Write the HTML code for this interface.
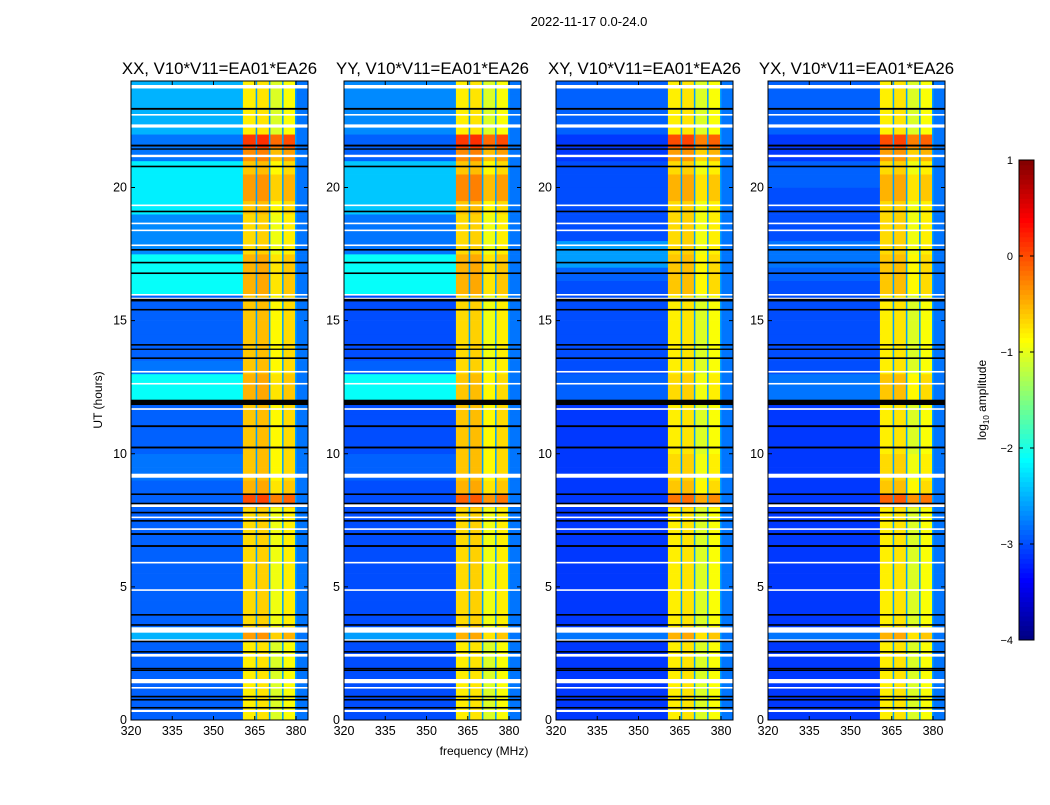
<!DOCTYPE html>
<html><head><meta charset="utf-8"><style>
body{margin:0;background:#fff;font-family:"Liberation Sans",sans-serif;}
svg text{font-family:"Liberation Sans",sans-serif;}
</style></head><body>
<svg id="fig" width="1050" height="800" xmlns="http://www.w3.org/2000/svg">
<rect width="1050" height="800" fill="#fff"/>
<text x="589" y="26" font-size="13" text-anchor="middle">2022-11-17 0.0-24.0</text>
<text x="484" y="755" font-size="12" text-anchor="middle">frequency (MHz)</text>
<text transform="translate(102,400) rotate(-90)" font-size="12" text-anchor="middle">UT (hours)</text>
<text transform="translate(986,400) rotate(-90)" font-size="12" text-anchor="middle">log<tspan font-size="8" dy="3">10</tspan><tspan dy="-3"> amplitude</tspan></text>
</svg>
<script>
const panelTitles=["XX, V10*V11=EA01*EA26","YY, V10*V11=EA01*EA26","XY, V10*V11=EA01*EA26","YX, V10*V11=EA01*EA26"];
const xTicks=[320,335,350,365,380];
const yTicks=[0,5,10,15,20];
const cbTicks=[1,0,-1,-2,-3,-4];
const freqEdges=[320,360.7,365.7,370.5,375.3,380,384.4];
const bandOffsets=[0,0.05,-0.25,-0.1];
const highLevel=-2.8;
const lowXX=[-2.9,-2.9,-2.9,-2.9,-2.9,-2.9,-2.5,-2.9,-2.9,-2.9,-2.9,-2.9,-2.9,-2.9,-2.9,-2.9,-2.9,-2.9,-2.8,-2.8,-2.9,-2.9,-2.9,-2.9,-2.1,-2.1,-2.8,-2.9,-2.9,-2.9,-2.9,-2.9,-2.1,-2.1,-2.1,-2.7,-2.7,-2.7,-2.2,-2.2,-2.2,-2.2,-2.8,-2.8,-2.5,-2.5,-2.5,-2.5];
const bandXX=[-0.8,-0.8,-0.8,-0.8,-0.8,-0.8,-0.4,-0.7,-0.7,-0.7,-0.7,-0.7,-0.7,-0.7,-0.7,-0.7,0.0,-0.5,-0.6,-0.6,-0.6,-0.6,-0.6,-0.6,-0.5,-0.5,-0.6,-0.6,-0.6,-0.6,-0.6,-0.6,-0.5,-0.5,-0.5,-0.7,-0.7,-0.7,-0.6,-0.4,-0.4,-0.6,-0.3,0.1,-0.8,-0.8,-0.8,-0.8];
const lowYY=[-3.0,-3.0,-3.0,-3.0,-3.0,-3.0,-2.6,-3.0,-3.0,-3.0,-3.0,-3.0,-3.0,-3.0,-3.0,-3.0,-3.0,-3.0,-2.9,-2.9,-3.0,-3.0,-3.0,-3.0,-2.1,-2.1,-2.9,-3.0,-3.0,-3.0,-3.0,-3.0,-2.1,-2.1,-2.1,-2.8,-2.8,-2.8,-2.4,-2.4,-2.4,-2.4,-2.9,-2.9,-2.7,-2.7,-2.7,-2.7];
const bandYY=[-0.8,-0.8,-0.8,-0.8,-0.8,-0.8,-0.5,-0.7,-0.7,-0.7,-0.7,-0.7,-0.7,-0.7,-0.7,-0.7,-0.1,-0.5,-0.6,-0.6,-0.6,-0.6,-0.6,-0.6,-0.6,-0.6,-0.7,-0.7,-0.7,-0.7,-0.7,-0.7,-0.5,-0.5,-0.5,-0.7,-0.7,-0.7,-0.6,-0.3,-0.3,-0.6,-0.3,0.1,-0.8,-0.8,-0.8,-0.8];
const lowXY=[-3.1,-3.1,-3.1,-3.1,-3.1,-3.1,-2.8,-3.1,-3.1,-3.1,-3.1,-3.1,-3.1,-3.1,-3.1,-3.1,-3.1,-3.1,-3.1,-3.1,-3.1,-3.1,-3.1,-3.1,-2.9,-2.9,-3.0,-3.0,-3.0,-3.0,-3.0,-3.0,-3.0,-2.9,-2.6,-2.6,-3.0,-3.0,-3.0,-3.0,-3.0,-3.0,-3.1,-3.1,-2.9,-2.9,-2.9,-2.9];
const bandXY=[-0.8,-0.8,-0.8,-0.8,-0.8,-0.8,-0.5,-0.8,-0.8,-0.8,-0.8,-0.8,-0.8,-0.8,-0.8,-0.8,-0.2,-0.6,-0.7,-0.7,-0.8,-0.8,-0.8,-0.8,-0.7,-0.7,-0.8,-0.8,-0.8,-0.8,-0.8,-0.8,-0.6,-0.6,-0.6,-0.7,-0.7,-0.7,-0.7,-0.5,-0.5,-0.7,-0.4,0.0,-0.8,-0.8,-0.8,-0.8];
const lowYX=[-3.1,-3.1,-3.1,-3.1,-3.1,-3.1,-2.8,-3.1,-3.1,-3.1,-3.1,-3.1,-3.1,-3.1,-3.1,-3.1,-3.1,-3.1,-3.1,-3.1,-3.1,-3.1,-3.1,-3.1,-2.8,-2.8,-3.0,-3.0,-3.0,-3.0,-3.0,-3.0,-3.0,-2.9,-2.8,-2.8,-3.0,-3.0,-3.0,-3.0,-2.9,-2.9,-3.1,-3.1,-2.9,-2.9,-2.9,-2.9];
const bandYX=[-0.8,-0.8,-0.8,-0.8,-0.8,-0.8,-0.5,-0.8,-0.8,-0.8,-0.8,-0.8,-0.8,-0.8,-0.8,-0.8,-0.1,-0.6,-0.7,-0.7,-0.8,-0.8,-0.8,-0.8,-0.6,-0.6,-0.8,-0.8,-0.8,-0.8,-0.8,-0.8,-0.6,-0.6,-0.6,-0.7,-0.7,-0.7,-0.7,-0.5,-0.5,-0.7,-0.4,0.0,-0.8,-0.8,-0.8,-0.8];
const flagBlackStart=[22.92,21.54,21.42,20.76,19.07,17.63,17.15,16.75,15.72,15.38,14.06,13.9,13.56,11.83,11.0,10.2,8.45,8.1,7.76,7.45,6.95,6.5,3.92,3.54,2.92,2.53,1.9,1.84,0.85,0.73,0.43];
const flagBlackLen=[0.07,0.07,0.05,0.06,0.06,0.06,0.06,0.06,0.1,0.06,0.06,0.05,0.06,0.2,0.07,0.07,0.06,0.06,0.06,0.06,0.07,0.07,0.06,0.06,0.06,0.06,0.06,0.05,0.06,0.06,0.06];
const flagWhiteStart=[23.72,22.7,22.25,21.14,19.3,18.62,18.36,17.8,15.94,15.8,13.05,12.6,11.65,9.1,8.0,7.58,7.14,5.88,4.85,3.28,2.97,2.38,1.38,1.18,0.3];
const flagWhiteLen=[0.13,0.06,0.12,0.09,0.06,0.06,0.06,0.06,0.06,0.06,0.06,0.06,0.06,0.15,0.15,0.06,0.06,0.06,0.06,0.2,0.06,0.1,0.16,0.06,0.08];
const lowSeries=[lowXX,lowYY,lowXY,lowYX];
const bandSeries=[bandXX,bandYY,bandXY,bandYX];
const panelLefts=[131,344,556,768];
const W=177,TOP=81,BOT=720;
const NS="http://www.w3.org/2000/svg";
const svg=document.getElementById('fig');
function jet(v){let t=Math.max(0,Math.min(1,(v+4)/5));
 const c=x=>Math.round(255*Math.max(0,Math.min(1,1.5-Math.abs(4*t-x))));
 return `rgb(${c(3)},${c(2)},${c(1)})`;}
function mk(tag,attrs,parent){const e=document.createElementNS(NS,tag);for(const k in attrs)e.setAttribute(k,attrs[k]);(parent||svg).appendChild(e);return e;}
for(let p=0;p<4;p++){
 const L=panelLefts[p];
 const xs=f=>L+(f-320)*2.75;
 const ys=h=>BOT-h*(BOT-TOP)/24;
 const g=mk('g',{});
 
 
 const low=lowSeries[p],band=bandSeries[p];
 for(let i=0;i<low.length;i++){
  const y0=ys((i+1)/2),y1=ys(i/2);
  for(let c=0;c<freqEdges.length-1;c++){
   let v;
   if(c===0)v=low[i];else if(c===freqEdges.length-2)v=highLevel;else v=band[i]+bandOffsets[c-1];
   const r=mk('rect',{x:xs(freqEdges[c]),y:y0,width:xs(freqEdges[c+1])-xs(freqEdges[c])+0.3,height:y1-y0+0.3,fill:jet(v)},g);
   
   
  }
 }
 for(let c=2;c<freqEdges.length-1;c++){
  const d=mk('rect',{x:xs(freqEdges[c])-1,y:TOP,width:1.5,height:BOT-TOP,fill:jet(-2.6)},g);
  
  
 }
 for(let i=0;i<flagWhiteStart.length;i++){
  const a=ys(flagWhiteStart[i]+flagWhiteLen[i]),b=ys(flagWhiteStart[i]);
  const r=mk('rect',{x:L,y:a,width:W,height:Math.max(1.5,b-a),fill:'#fff'},g);
  
  
 }
 for(let i=0;i<flagBlackStart.length;i++){
  const a=ys(flagBlackStart[i]+flagBlackLen[i]),b=ys(flagBlackStart[i]);
  const r=mk('rect',{x:L,y:a,width:W,height:Math.max(1.3,b-a),fill:'#000'},g);
  
  
 }
 const fr=mk('rect',{x:L,y:TOP,width:W,height:BOT-TOP,fill:'none',stroke:'#000','stroke-width':1},g);
 
 
 const t=mk('text',{x:L+W/2,y:74,'font-size':16.8,'text-anchor':'middle'},g);t.textContent=panelTitles[p];
 
 
 for(const f of xTicks){
  const x=xs(f);
  mk('line',{x1:x,x2:x,y1:BOT,y2:BOT-4,stroke:'#000'},g);
  mk('line',{x1:x,x2:x,y1:TOP,y2:TOP+4,stroke:'#000'},g);
  const tx=mk('text',{x:x,y:BOT+15,'font-size':12.5,'text-anchor':'middle'},g);tx.textContent=f;
  
  
 }
 for(const h of yTicks){
  const y=ys(h);
  mk('line',{x1:L,x2:L+4,y1:y,y2:y,stroke:'#000'},g);
  mk('line',{x1:L+W,x2:L+W-4,y1:y,y2:y,stroke:'#000'},g);
  const ty=mk('text',{x:L-4,y:y+4,'font-size':12.5,'text-anchor':'end'},g);ty.textContent=h;
  
  
 }
}
const CBX=1019,CBW=15,CBT=160,CBB=640;
const cb=mk('g',{});


const cys=v=>CBB-(v+4)/5*(CBB-CBT);
for(let i=0;i<100;i++){
 const v0=-4+i*0.05;
 mk('rect',{x:CBX,y:cys(v0+0.05),width:CBW,height:(CBB-CBT)/100+0.5,fill:jet(v0+0.025)},cb);
}
mk('rect',{x:CBX,y:CBT,width:CBW,height:CBB-CBT,fill:'none',stroke:'#000'},cb);
for(const v of cbTicks){
 const y=cys(v);
 mk('line',{x1:CBX,x2:CBX+4,y1:y,y2:y,stroke:'#000'},cb);
 mk('line',{x1:CBX+CBW,x2:CBX+CBW-4,y1:y,y2:y,stroke:'#000'},cb);
 const t=mk('text',{x:CBX-6,y:y+4,'font-size':11,'text-anchor':'end'},cb);
 t.textContent=v<0?'\u2212'+(-v):v;
 
 
}
</script>
</body></html>
